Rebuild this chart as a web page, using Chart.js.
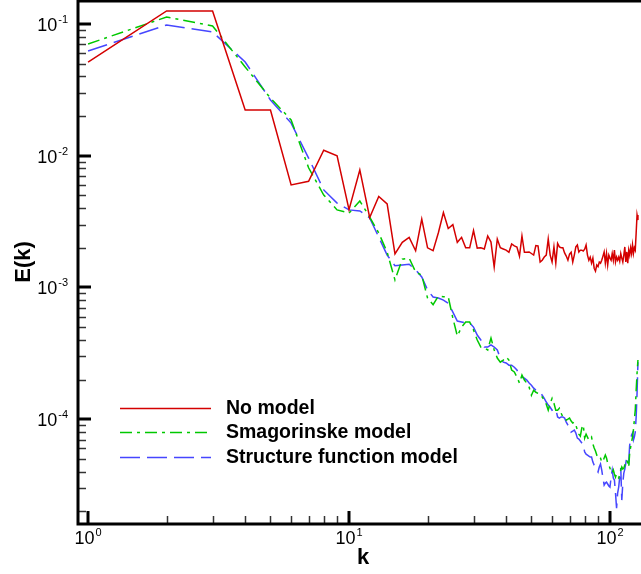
<!DOCTYPE html>
<html>
<head>
<meta charset="utf-8">
<script src="https://cdn.jsdelivr.net/npm/chart.js@4.4.1/dist/chart.umd.min.js"></script>
<style>
  html, body { margin: 0; padding: 0; background: #fff; }
</style>
</head>
<body>
<canvas id="myChart" width="641" height="574"></canvas>
<script>
const FONT = "'Liberation Sans', Arial, sans-serif";

// wavenumbers
const kValues = [
  1, 2, 3, 4, 5, 6, 7, 8, 9, 10, 11, 12, 13, 14, 15, 16, 17, 18, 19, 20,
  21, 22, 23, 24, 25, 26, 27, 28, 29, 30, 31, 32, 33, 34, 35, 36, 37, 38, 39, 40,
  41, 42, 43, 44, 45, 46, 47, 48, 49, 50, 51, 52, 53, 54, 55, 56, 57, 58, 59, 60,
  61, 62, 63, 64, 65, 66, 67, 68, 69, 70, 71, 72, 73, 74, 75, 76, 77, 78, 79, 80,
  81, 82, 83, 84, 85, 86, 87, 88, 89, 90, 91, 92, 93, 94, 95, 96, 97, 98, 99, 100,
  101, 102, 103, 104, 105, 106, 107, 108, 109, 110, 111, 112, 113, 114, 115, 116, 117, 118, 119, 120,
  121, 122, 123, 124, 125, 126, 127, 128,
];

const noModel = [
  0.0514, 0.1256, 0.1256, 0.0222, 0.0222, 0.0060, 0.0064, 0.0110, 0.0100, 0.0039,
  0.0078, 0.0034, 0.0049, 0.0043, 0.0018, 0.0022, 0.0024, 0.0019, 0.0033, 0.0020,
  0.0019, 0.0026, 0.0037, 0.0028, 0.0030, 0.0022, 0.0024, 0.0020, 0.0020, 0.0027,
  0.00199, 0.0020, 0.00196, 0.00246, 0.00221, 0.00143, 0.00233, 0.0020, 0.00196, 0.00192,
  0.00185, 0.00214, 0.00207, 0.00203, 0.00173, 0.00246, 0.00185, 0.00185, 0.00186, 0.00181,
  0.00176, 0.00208, 0.00207, 0.00156, 0.00161, 0.0017, 0.00176, 0.00233, 0.00176, 0.00156,
  0.00203, 0.00153, 0.00216, 0.00203, 0.0020, 0.0020, 0.00183, 0.00173, 0.00161, 0.00179,
  0.00185, 0.00156, 0.00176, 0.00203, 0.0021, 0.00186, 0.00192, 0.00192, 0.00189, 0.00195,
  0.0021, 0.00176, 0.00161, 0.0017, 0.00153, 0.00167, 0.0014, 0.00133, 0.00148, 0.00144,
  0.00156, 0.00153, 0.00161, 0.00173, 0.00186, 0.00153, 0.00181, 0.00148, 0.00176, 0.00167,
  0.00161, 0.00181, 0.00161, 0.00192, 0.00156, 0.0017, 0.00161, 0.0017, 0.00158, 0.00181,
  0.00167, 0.00156, 0.00176, 0.00203, 0.00156, 0.00186, 0.00153, 0.00192, 0.00176, 0.0020,
  0.00181, 0.0021, 0.00181, 0.0020, 0.00192, 0.00259, 0.00355, 0.00325,
];

const smagorinsky = [
  0.0705, 0.113, 0.0966, 0.0472, 0.0274, 0.0187, 0.0081, 0.00503, 0.00388, 0.00367,
  0.00453, 0.00342, 0.00259, 0.00185, 0.00114, 0.00164, 0.00167, 0.00131, 0.00124, 0.00083,
  0.00074, 0.00086, 0.00085, 0.00085, 0.000585, 0.000428, 0.0005, 0.000546, 0.000546, 0.000475,
  0.000399, 0.000353, 0.000347, 0.000335, 0.000413, 0.000335, 0.000291, 0.000271, 0.000281, 0.000296,
  0.000281, 0.000236, 0.000228, 0.000209, 0.000188, 0.000216, 0.000198, 0.000188, 0.000175, 0.000152,
  0.000166, 0.00016, 0.000157, 0.000155, 0.000147, 0.000139, 0.00013, 0.000117, 0.000132, 0.000144,
  0.000132, 0.000117, 0.000117, 0.000121, 0.000111, 0.000104, 0.0001, 0.0000984, 0.0001, 0.000102,
  0.0000967, 0.0000934, 0.000095, 0.0000902, 0.0000827, 0.000077, 0.0000744, 0.0000856, 0.0000902, 0.0000718,
  0.000077, 0.0000731, 0.0000694, 0.0000706, 0.0000731, 0.0000647, 0.0000603, 0.0000573, 0.0000534, 0.0000543,
  0.0000525, 0.0000507, 0.0000472, 0.000048, 0.0000507, 0.0000534, 0.0000507, 0.0000464, 0.0000448, 0.0000425,
  0.0000397, 0.000039, 0.0000411, 0.0000383, 0.0000363, 0.0000383, 0.0000363, 0.0000357, 0.0000383, 0.0000411,
  0.0000433, 0.0000418, 0.0000425, 0.0000448, 0.0000464, 0.0000489, 0.0000464, 0.0000433, 0.0000553, 0.0000614,
  0.000067, 0.0000731, 0.0000827, 0.0000984, 0.000117, 0.000166, 0.000224, 0.000281,
];

const structureFn = [
  0.0623, 0.0983, 0.0869, 0.0515, 0.0265, 0.0177, 0.0096, 0.0055, 0.00437, 0.00388,
  0.00381, 0.00337, 0.00241, 0.00176, 0.00146, 0.00148, 0.0015, 0.00136, 0.0012, 0.000956,
  0.000846, 0.000831, 0.000802, 0.000759, 0.00065, 0.000556, 0.000546, 0.000537, 0.000537, 0.0005,
  0.000435, 0.000399, 0.000353, 0.000353, 0.000366, 0.000353, 0.000335, 0.000291, 0.000271, 0.000267,
  0.000257, 0.000257, 0.000248, 0.000236, 0.000216, 0.000209, 0.000205, 0.000198, 0.000188, 0.000181,
  0.000172, 0.000166, 0.000163, 0.00016, 0.000152, 0.000144, 0.000135, 0.000128, 0.000123, 0.000117,
  0.000119, 0.000119, 0.000104, 0.000102, 0.000104, 0.000104, 0.000102, 0.000095, 0.0000902, 0.0000871,
  0.0000798, 0.0000812, 0.0000827, 0.0000784, 0.0000718, 0.0000706, 0.0000682, 0.0000659, 0.0000636, 0.0000563,
  0.0000543, 0.0000534, 0.0000525, 0.0000516, 0.0000516, 0.0000472, 0.0000448, 0.0000433, 0.0000411, 0.0000397,
  0.0000433, 0.0000456, 0.0000411, 0.0000357, 0.0000316, 0.0000327, 0.0000333, 0.0000322, 0.0000311, 0.0000305,
  0.0000363, 0.0000411, 0.0000357, 0.0000345, 0.0000275, 0.0000211, 0.0000275, 0.0000305, 0.0000363, 0.0000425,
  0.0000243, 0.0000327, 0.000039, 0.0000418, 0.0000464, 0.0000516, 0.0000489, 0.0000472, 0.0000636, 0.0000694,
  0.0000757, 0.0000784, 0.0000694, 0.0000731, 0.0000798, 0.000104, 0.000157, 0.000271,
];

const seriesNames = ["No model", "Smagorinske model", "Structure function model"];
const xMajor = [1, 10, 100];
const xMajorExp = ["0", "1", "2"];
const yMajor = [1e-1, 1e-2, 1e-3, 1e-4];
const yMajorExp = ["-1", "-2", "-3", "-4"];

const colors = {
  red: "#d40000",
  green: "#00c800",
  blue: "#4646ff",
};
const dashes = [[], [12, 5, 3, 5], [20, 7]];
const lineColors = [colors.red, colors.green, colors.blue];

const toPoints = (vals) => kValues.map((k, i) => ({ x: k, y: vals[i] }));

function minorTicks(lo, hi) {
  const out = [];
  for (let e = Math.floor(Math.log10(lo)); e <= Math.ceil(Math.log10(hi)); e++) {
    for (let m = 2; m <= 9; m++) {
      const v = m * Math.pow(10, e);
      if (v > lo && v < hi) out.push(v);
    }
  }
  return out;
}

function drawPow(ctx, exp, x, y, align) {
  ctx.font = "18px " + FONT;
  const wBase = ctx.measureText("10").width;
  ctx.font = "11px " + FONT;
  const wExp = ctx.measureText(exp).width;
  const total = wBase + wExp + 1;
  let left = x;
  if (align === "right") left = x - total;
  if (align === "center") left = x - total / 2;
  ctx.textAlign = "left";
  ctx.textBaseline = "alphabetic";
  ctx.font = "18px " + FONT;
  ctx.fillText("10", left, y);
  ctx.font = "11px " + FONT;
  ctx.fillText(exp, left + wBase + 1, y - 8);
}

const axisFrame = {
  id: "axisFrame",
  afterDatasetsDraw(chart) {
    const { ctx, chartArea: a, scales } = chart;
    const x = scales.x;
    const y = scales.y;
    ctx.save();
    ctx.fillStyle = "#000";

    // minor ticks
    ctx.strokeStyle = "#333";
    ctx.lineWidth = 1.5;
    minorTicks(x.min, x.max).forEach((v) => {
      const px = Math.round(x.getPixelForValue(v)) + 0.5;
      ctx.beginPath();
      ctx.moveTo(px, a.bottom);
      ctx.lineTo(px, a.bottom - 8);
      ctx.stroke();
    });
    minorTicks(y.min, y.max).forEach((v) => {
      const py = Math.round(y.getPixelForValue(v)) + 0.5;
      ctx.beginPath();
      ctx.moveTo(a.left, py);
      ctx.lineTo(a.left + 8, py);
      ctx.stroke();
    });

    // major ticks
    ctx.strokeStyle = "#000";
    ctx.lineWidth = 3;
    xMajor.forEach((v) => {
      const px = Math.round(x.getPixelForValue(v));
      ctx.beginPath();
      ctx.moveTo(px, a.bottom);
      ctx.lineTo(px, a.bottom - 13);
      ctx.stroke();
    });
    yMajor.forEach((v) => {
      const py = Math.round(y.getPixelForValue(v));
      ctx.beginPath();
      ctx.moveTo(a.left, py);
      ctx.lineTo(a.left + 13, py);
      ctx.stroke();
    });

    // frame: left, bottom, top
    ctx.lineWidth = 3;
    ctx.beginPath();
    ctx.moveTo(a.right, a.top);
    ctx.lineTo(a.left, a.top);
    ctx.lineTo(a.left, a.bottom);
    ctx.lineTo(a.right, a.bottom);
    ctx.stroke();

    // tick labels
    xMajor.forEach((v, i) => {
      drawPow(ctx, xMajorExp[i], x.getPixelForValue(v), a.bottom + 20, "center");
    });
    yMajor.forEach((v, i) => {
      drawPow(ctx, yMajorExp[i], a.left - 10, y.getPixelForValue(v) + 7, "right");
    });

    // axis titles
    ctx.font = "bold 22px " + FONT;
    ctx.textAlign = "center";
    ctx.textBaseline = "middle";
    ctx.fillText("k", 363, 558);
    ctx.save();
    ctx.translate(24, 262);
    ctx.rotate(-Math.PI / 2);
    ctx.fillText("E(k)", 0, 0);
    ctx.restore();

    // legend
    const rows = [408, 432, 457];
    seriesNames.forEach((name, i) => {
      ctx.strokeStyle = lineColors[i];
      ctx.lineWidth = 1.5;
      ctx.setLineDash(dashes[i]);
      ctx.beginPath();
      ctx.moveTo(120, rows[i] + 0.5);
      ctx.lineTo(211, rows[i] + 0.5);
      ctx.stroke();
      ctx.setLineDash([]);
      ctx.font = "bold 19.5px " + FONT;
      ctx.textAlign = "left";
      ctx.textBaseline = "middle";
      ctx.fillStyle = "#000";
      ctx.fillText(name, 226, rows[i] + 1);
    });

    ctx.restore();
  },
};

const ctx = document.getElementById("myChart");

new Chart(ctx, {
  type: "line",
  data: {
    datasets: [noModel, smagorinsky, structureFn].map((vals, i) => ({
      label: seriesNames[i],
      data: toPoints(vals),
      borderColor: lineColors[i],
      borderDash: dashes[i],
      borderWidth: 1.5,
      pointRadius: 0,
      tension: 0,
      fill: false,
    })),
  },
  options: {
    responsive: false,
    animation: false,
    devicePixelRatio: 1,
    layout: {
      padding: { left: 78, top: 1, right: 0, bottom: 50 },
    },
    plugins: {
      legend: { display: false },
      tooltip: { enabled: false },
    },
    scales: {
      x: {
        type: "logarithmic",
        display: false,
        min: 0.915,
        max: 131.5,
      },
      y: {
        type: "logarithmic",
        display: false,
        min: 1.6e-5,
        max: 0.1495,
      },
    },
  },
  plugins: [axisFrame],
});
</script>
</body>
</html>
